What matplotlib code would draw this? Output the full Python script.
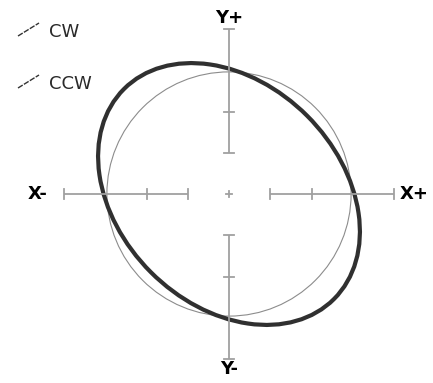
import matplotlib
matplotlib.use("Agg")
import matplotlib.pyplot as plt
from matplotlib.patches import Circle, Ellipse

# ---- data ----
axis_labels = ["X-", "X+", "Y+", "Y-"]
legend_labels = ["CW", "CCW"]
axis_end = 4.0
axis_ticks = [1.0, 2.0]
circle_radius = 2.96
ellipse_semi_major = 3.60
ellipse_semi_minor = 2.68
ellipse_angle = -45.0

W, H = 433, 383
DPI = 100
CX, CY = 229, 194       # centre pixel
UNIT = 41.25            # pixels per data unit

fig = plt.figure(figsize=(W / DPI, H / DPI), dpi=DPI)
ax = fig.add_axes([0, 0, 1, 1])
ax.set_xlim(-CX / UNIT, (W - CX) / UNIT)
ax.set_ylim(-(H - CY) / UNIT, CY / UNIT)
ax.axis("off")

axc = "#a0a0a0"
alw = 1.3
cap = 0.11
# axes segments (gap between -1 and 1 around the centre)
for s in (-1, 1):
    ax.plot([s * axis_ticks[0], s * axis_end], [0, 0], color=axc, lw=alw, solid_capstyle="butt")
    ax.plot([0, 0], [s * axis_ticks[0], s * axis_end], color=axc, lw=alw, solid_capstyle="butt")
    for t in axis_ticks + [axis_end]:
        ax.plot([s * t, s * t], [-cap, cap], color=axc, lw=alw)
        ax.plot([-cap, cap], [s * t, s * t], color=axc, lw=alw)
# centre cross
ax.plot([-0.08, 0.08], [0, 0], color=axc, lw=alw)
ax.plot([0, 0], [-0.08, 0.08], color=axc, lw=alw)

ax.add_patch(Circle((0, 0), circle_radius, fill=False, ec="#8c8c8c", lw=0.8))
ax.add_patch(Ellipse((0, 0), 2 * ellipse_semi_major, 2 * ellipse_semi_minor,
                     angle=ellipse_angle, fill=False, ec="#303030", lw=3.0))

def px(x, y):
    return ((x - CX) / UNIT, (CY - y) / UNIT)

fs = 13
ax.text(*px(38, 194), axis_labels[0], fontsize=fs, fontweight="bold", ha="center", va="center")
ax.text(*px(414, 194), axis_labels[1], fontsize=fs, fontweight="bold", ha="center", va="center")
ax.text(*px(229, 18), axis_labels[2], fontsize=fs, fontweight="bold", ha="center", va="center")
ax.text(*px(229, 369), axis_labels[3], fontsize=fs, fontweight="bold", ha="center", va="center")

# legend
for lab, ycen in zip(legend_labels, [31, 83]):
    x0, y0 = px(18, ycen + 5)
    x1, y1 = px(39, ycen - 8)
    ax.plot([x0, x1], [y0, y1], color="#333333", lw=1.0, ls=(0, (4, 1)))
    ax.text(*px(49, ycen + 1), lab, fontsize=13, ha="left", va="center", color="#2a2a2a")

fig.savefig("out.png", dpi=DPI)
